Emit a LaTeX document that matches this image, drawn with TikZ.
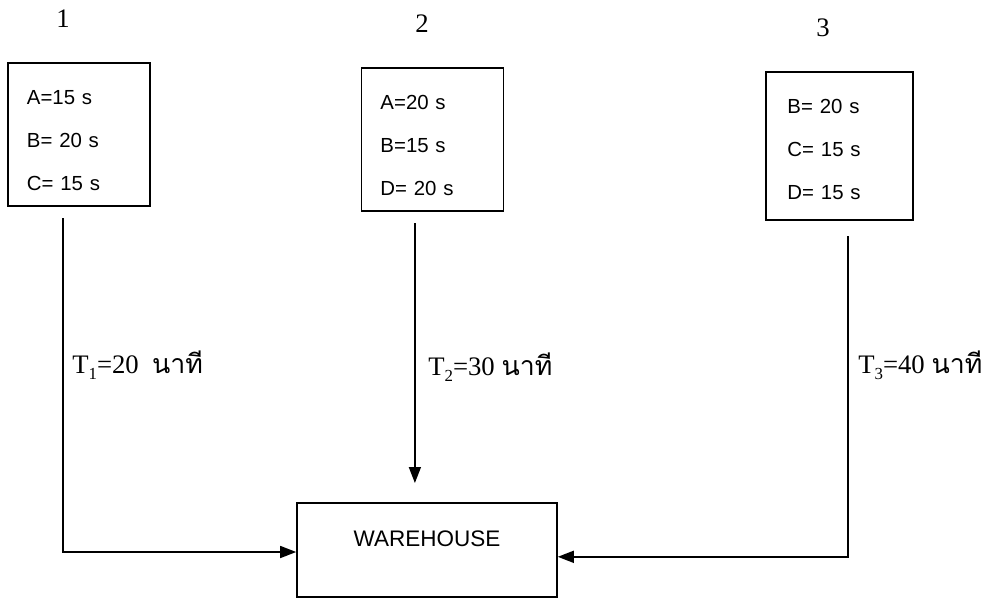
\documentclass[tikz,border=0pt]{standalone}
\usepackage{fontspec}
\setmainfont{Liberation Serif}
\newfontfamily\boxfont{Liberation Sans}
\newfontfamily\thaifont[Script=Thai]{Loma}
\usetikzlibrary{arrows.meta,positioning}
\newcommand{\minutes}{{\thaifont นาที}}
\newcommand{\tsub}[1]{\raisebox{-0.5ex}{\fontsize{12}{12}\selectfont #1}}
\newcommand{\toppad}[1]{\rule{0pt}{#1}}
\tikzset{
    srcbox/.style={rectangle,draw,line width=1.1pt,align=left,minimum width=3.55cm,minimum height=3.58cm,text width=2.6cm,font=\boxfont\fontsize{14.5}{30.6}\selectfont},
    storebox/.style={rectangle,draw,line width=1.1pt,inner sep=0pt,minimum width=6.5cm,text height=1.09cm,text depth=1.26cm,font=\boxfont\fontsize{16}{19}\selectfont},
    sitelabel/.style={font=\fontsize{19}{22}\selectfont},
    timelabel/.style={anchor=base west,inner sep=0pt,font=\fontsize{19}{22}\selectfont},
    feedline/.style={-{Triangle[length=4mm,width=3mm]},line width=1.1pt}
}
\begin{document}
\begin{tikzpicture}[x=0.025cm,y=-0.025cm]
            \useasboundingbox (0,0) rectangle (991,599);
            \node[srcbox] (src1) at (79,134.5) {\toppad{0.67cm}A=15 s\\B= 20 s\\C= 15 s};
            \node[srcbox] (src2) at (432.5,139.5) {\toppad{0.67cm}A=20 s\\B=15 s\\D= 20 s};
            \node[srcbox,minimum width=3.68cm,minimum height=3.7cm] (src3) at (839.5,146) {\toppad{0.52cm}B= 20 s\\C= 15 s\\D= 15 s};
            \node[sitelabel] (site1) at (63,19) {1};
            \node[sitelabel] (site2) at (422,24) {2};
            \node[sitelabel] (site3) at (823,28) {3};
            \node[storebox] (wh) at (427,550) {WAREHOUSE};
            \coordinate (top1) at ([xshift=-0.4cm,yshift=-0.29cm]src1.south);
            \coordinate (top2) at ([xshift=-0.44cm,yshift=-0.28cm]src2.south);
            \coordinate (top3) at ([xshift=0.21cm,yshift=-0.38cm]src3.south);
            \draw[feedline] (top1) |- ([yshift=-0.05cm]wh.west);
            \draw[feedline,shorten >=0.48cm] (top2) -- (top2 |- wh.north);
            \draw[feedline] (top3) |- ([yshift=-0.17cm]wh.east);
            \node[timelabel] (time1) at (72,373) {T\tsub{1}=20\ \ \minutes};
            \node[timelabel] (time2) at (428,375) {T\tsub{2}=30 \minutes};
            \node[timelabel] (time3) at (858,373) {T\tsub{3}=40 \minutes};
        \end{tikzpicture}
\end{document}
